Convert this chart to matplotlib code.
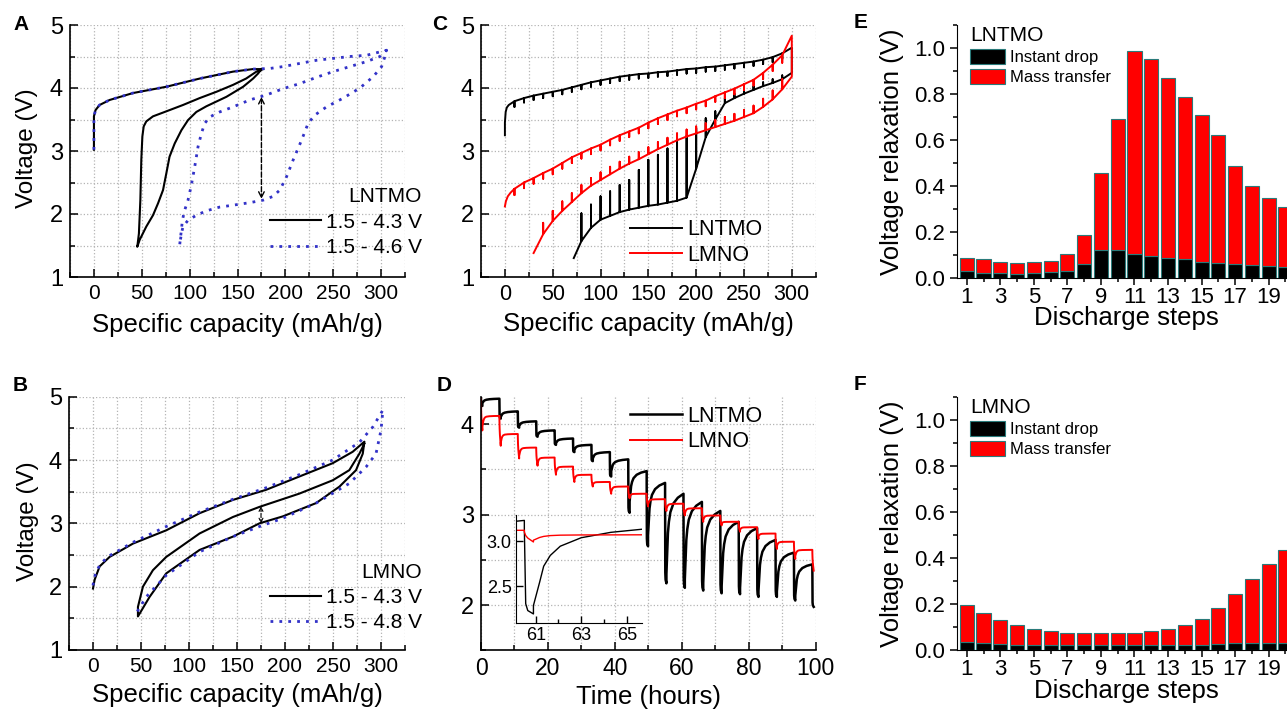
import matplotlib
matplotlib.use('Agg')
import matplotlib.pyplot as plt
from matplotlib.ticker import MultipleLocator, FixedLocator, FormatStrFormatter

plt.rcParams['font.family'] = ['Liberation Sans', 'DejaVu Sans']

W, H = 1287, 709
BLUE = '#3232c8'
EDGE = '#2a7a7a'

# ---------------- A: LNTMO galvanostatic cycles ----------------
a43_q = [0, 0, 1.7, 5.9, 16.4, 40.8, 75.7, 110.5, 145.4, 166, 177,
         169.8, 159, 145.4, 128, 110.5, 93, 75.7, 61.7, 54.7, 52, 50.6, 49.5, 48.5, 47, 45.3,
         47.8, 54.7, 61.7, 67, 72.2, 75.7, 79, 84.4, 91.4, 98.3, 107, 117.5, 138.4, 155.9, 166.3, 171.5, 175]
a43_v = [3.02, 3.55, 3.65, 3.73, 3.81, 3.92, 4.02, 4.15, 4.26, 4.30, 4.30,
         4.26, 4.15, 4.05, 3.94, 3.84, 3.73, 3.63, 3.55, 3.47, 3.39, 3.23, 2.86, 2.22, 1.69, 1.48,
         1.59, 1.80, 1.98, 2.17, 2.38, 2.65, 2.91, 3.12, 3.33, 3.49, 3.62, 3.71, 3.86, 4.02, 4.15, 4.23, 4.30]
a46_q = [0, 0, 1.7, 5.9, 16.4, 40.8, 75.7, 110.5, 145.4, 166, 183.7, 197.7, 215, 232.6, 250, 267.4, 285, 305.8,
         304, 300.6, 291.8, 277.9, 260.5, 243, 230.8, 223.8, 216.9, 208.2, 201.2, 194.2, 187.2, 176.8,
         162.8, 145.4, 131.4, 117.5, 107, 98.3, 93.1, 91.4, 89.6,
         91.4, 92.4, 94.8, 98.3, 101.8, 105.3, 108.8, 112.3, 115.8, 121, 131.4, 145.4, 162.8, 180.3,
         197.7, 215.1, 232.6, 250, 267.4, 285, 298.8, 305.8]
a46_v = [3.02, 3.55, 3.65, 3.73, 3.81, 3.92, 4.02, 4.15, 4.26, 4.30, 4.31, 4.34, 4.39, 4.44, 4.47, 4.50, 4.52, 4.60,
         4.50, 4.34, 4.18, 4.00, 3.84, 3.70, 3.57, 3.44, 3.17, 2.86, 2.59, 2.38, 2.28, 2.22,
         2.18, 2.14, 2.11, 2.05, 1.98, 1.90, 1.80, 1.69, 1.51,
         1.75, 1.90, 2.06, 2.22, 2.46, 2.75, 3.07, 3.28, 3.44, 3.54, 3.62, 3.70, 3.81, 3.89,
         3.99, 4.07, 4.17, 4.26, 4.34, 4.42, 4.50, 4.60]
a_arrow = (175, 3.86, 2.24)

# ---------------- B: LMNO galvanostatic cycles ----------------
b43_q = [0, 1.7, 6.9, 17.3, 41.6, 76.3, 111, 145.7, 180.4, 215, 249.7, 270.5, 282.7,
         281, 274, 256.7, 232.4, 197.7, 173.4, 145.7, 111, 76.3, 59, 46.8,
         46.8, 52, 62.4, 76.3, 111, 145.7, 173.4, 215, 249.7, 267, 277.5, 282.7]
b43_v = [1.97, 2.11, 2.32, 2.47, 2.68, 2.89, 3.16, 3.37, 3.53, 3.74, 3.95, 4.13, 4.29,
         4.10, 3.84, 3.58, 3.32, 3.11, 3.00, 2.79, 2.58, 2.21, 1.84, 1.53,
         1.68, 2.00, 2.26, 2.47, 2.84, 3.10, 3.26, 3.47, 3.68, 3.84, 4.10, 4.26]
b48_q = [0, 1, 3, 7, 15, 30, 41.6, 76.3, 111, 145.7, 180, 215, 249.7, 277.5, 291.4, 302,
         300, 294.8, 284.4, 267, 232.4, 197.7, 173.4, 145.7, 111, 76.3, 55.5, 45]
b48_v = [2.02, 2.12, 2.22, 2.34, 2.47, 2.60, 2.70, 2.95, 3.18, 3.38, 3.56, 3.77, 4.00, 4.28, 4.52, 4.79,
         4.47, 4.10, 3.89, 3.63, 3.32, 3.08, 2.95, 2.79, 2.55, 2.18, 1.84, 1.58]
b_arrow = (175, 3.27, 3.00)

# ---------------- C: GITT vs capacity ----------------
c_chg_q = [10, 20, 30, 40, 50, 60, 70, 80, 90, 100, 110, 120, 130, 140, 150,
           160, 170, 180, 190, 200, 210, 220, 230, 240, 250, 260, 270, 280, 290, 300]
# LNTMO charge
c_lntmo_head_q = [0, 0, 0.8, 2, 4, 7]
c_lntmo_head_v = [3.25, 3.45, 3.62, 3.69, 3.73, 3.76]
c_lntmo_chg_ccv = [3.79, 3.84, 3.88, 3.91, 3.94, 3.97, 4.01, 4.05, 4.09, 4.12, 4.15, 4.18, 4.20, 4.22, 4.23,
                   4.25, 4.26, 4.28, 4.30, 4.31, 4.33, 4.34, 4.36, 4.38, 4.40, 4.42, 4.45, 4.49, 4.55, 4.64]
c_lntmo_chg_ocv = [3.70, 3.77, 3.81, 3.84, 3.87, 3.90, 3.94, 3.98, 4.02, 4.05, 4.08, 4.11, 4.13, 4.15, 4.16,
                   4.18, 4.19, 4.21, 4.23, 4.24, 4.26, 4.27, 4.29, 4.31, 4.33, 4.35, 4.38, 4.41, 4.46, 4.48]
# LNTMO discharge
c_lntmo_dis_q = [290, 280, 270, 260, 250, 240, 230, 220, 210, 200, 190, 180, 170, 160, 150,
                 140, 130, 120, 110, 100, 90, 80]
c_lntmo_dis_ccv = [4.14, 4.08, 4.03, 3.97, 3.91, 3.84, 3.76, 3.50, 3.22, 2.72, 2.26, 2.21, 2.18, 2.15, 2.13,
                   2.10, 2.07, 2.03, 1.97, 1.91, 1.78, 1.57]
c_lntmo_dis_ocv = [4.20, 4.14, 4.09, 4.03, 3.97, 3.91, 3.84, 3.63, 3.52, 3.36, 3.24, 3.15, 3.04, 2.94, 2.86,
                   2.70, 2.54, 2.46, 2.36, 2.28, 2.15, 2.01]
c_lntmo_dis_start = (300, 4.24)
c_lntmo_dis_end = (72, 1.30)
# LMNO charge
c_lmno_head_q = [0, 1, 3, 6]
c_lmno_head_v = [2.12, 2.20, 2.28, 2.34]
c_lmno_chg_ccv = [2.40, 2.50, 2.57, 2.65, 2.72, 2.81, 2.90, 2.97, 3.04, 3.10, 3.18, 3.25, 3.31, 3.37, 3.45,
                  3.52, 3.58, 3.64, 3.69, 3.75, 3.80, 3.87, 3.93, 3.99, 4.06, 4.13, 4.24, 4.37, 4.52, 4.83]
c_lmno_chg_ocv = [2.30, 2.41, 2.48, 2.56, 2.63, 2.72, 2.81, 2.88, 2.95, 3.01, 3.09, 3.16, 3.22, 3.28, 3.36,
                  3.43, 3.49, 3.55, 3.60, 3.66, 3.71, 3.78, 3.84, 3.90, 3.97, 4.04, 4.14, 4.27, 4.40, 4.62]
# LMNO discharge
c_lmno_dis_q = [290, 280, 270, 260, 250, 240, 230, 220, 210, 200, 190, 180, 170, 160, 150,
                140, 130, 120, 110, 100, 90, 80, 70, 60, 50, 40]
c_lmno_dis_ccv = [3.98, 3.82, 3.70, 3.60, 3.54, 3.48, 3.43, 3.38, 3.33, 3.28, 3.23, 3.17, 3.10, 3.03, 2.95,
                  2.87, 2.80, 2.72, 2.63, 2.54, 2.45, 2.33, 2.19, 2.05, 1.89, 1.68]
c_lmno_dis_ocv = [4.14, 3.96, 3.83, 3.72, 3.65, 3.59, 3.54, 3.49, 3.44, 3.39, 3.34, 3.28, 3.21, 3.14, 3.06,
                  2.98, 2.91, 2.83, 2.75, 2.66, 2.57, 2.46, 2.33, 2.20, 2.05, 1.86]
c_lmno_dis_start = (300, 4.18)
c_lmno_dis_end = (30, 1.38)

# ---------------- D: GITT discharge vs time ----------------
d_pulse_t = [0, 5.5, 11, 16.5, 22, 27.5, 33, 38.5, 44, 49.5, 55, 60.5, 66, 71.5, 77, 82.5, 88, 93.5, 99]
d_lntmo_start = 4.30
d_lntmo_min = [4.20, 4.06, 3.96, 3.86, 3.77, 3.69, 3.59, 3.42, 3.02, 2.65, 2.24, 2.19, 2.16, 2.13, 2.12,
               2.09, 2.09, 2.05, 1.98]
d_lntmo_rest = [4.28, 4.14, 4.03, 3.93, 3.84, 3.77, 3.69, 3.61, 3.48, 3.35, 3.23, 3.14, 3.04, 2.92, 2.85,
                2.72, 2.58, 2.45]
d_lmno_start = 4.28
d_lmno_min = [3.93, 3.76, 3.62, 3.54, 3.44, 3.36, 3.31, 3.23, 3.18, 3.09, 3.04, 2.99, 2.92, 2.88, 2.81,
              2.73, 2.62, 2.51, 2.38]
d_lmno_rest = [4.09, 3.89, 3.74, 3.63, 3.53, 3.44, 3.36, 3.31, 3.23, 3.17, 3.12, 3.07, 2.99, 2.92, 2.86,
               2.79, 2.70, 2.61]
# pulse / rest shapes (fraction of the change)
pulse_len = 0.4
drop_dt = [0.06, 0.15, 0.4]
drop_frac_lntmo = [0.88, 0.96, 1.0]
drop_frac_lmno = [0.35, 0.6, 1.0]
rest_dt = [0.27, 0.45, 0.74, 1.18, 2.1, 3.4, 5.1]
rest_frac_lntmo = [0.30, 0.51, 0.65, 0.77, 0.88, 0.95, 1.0]
rest_frac_lmno = [0.50, 0.70, 0.85, 0.93, 0.97, 0.99, 1.0]

# ---------------- E / F: relaxation per discharge step ----------------
steps = list(range(1, 21))
e_instant = [0.030, 0.019, 0.019, 0.016, 0.019, 0.025, 0.030, 0.059, 0.122, 0.122,
             0.104, 0.094, 0.086, 0.081, 0.070, 0.065, 0.059, 0.055, 0.051, 0.045]
e_total = [0.084, 0.080, 0.068, 0.064, 0.068, 0.074, 0.103, 0.186, 0.454, 0.690,
           0.986, 0.951, 0.870, 0.788, 0.710, 0.619, 0.486, 0.397, 0.348, 0.309]
f_instant = [0.036, 0.032, 0.028, 0.023, 0.023, 0.023, 0.020, 0.020, 0.020, 0.020,
             0.020, 0.020, 0.020, 0.023, 0.023, 0.028, 0.032, 0.032, 0.032, 0.032]
f_total = [0.196, 0.162, 0.130, 0.107, 0.091, 0.081, 0.075, 0.075, 0.072, 0.072,
           0.075, 0.081, 0.090, 0.107, 0.136, 0.183, 0.245, 0.310, 0.375, 0.435]


def gitt_path(head_q, head_v, q, ccv, ocv, start=None, end=None):
    xs, ys = list(head_q), list(head_v)
    if start is not None:
        xs.append(start[0]); ys.append(start[1])
    for qi, c, o in zip(q, ccv, ocv):
        xs += [qi, qi, qi]
        ys += [c, o, c]
    if end is not None:
        xs.append(end[0]); ys.append(end[1])
    return xs, ys


def time_path(t_pulse, v0, mins, rests, inst, dfrac, rfrac):
    ts, vs = [t_pulse[0]], [v0]
    pre = v0
    for k, tk in enumerate(t_pulse):
        top = pre - inst[k]
        ts.append(tk); vs.append(top)
        for dt, f in zip(drop_dt, dfrac):
            ts.append(tk + dt); vs.append(top - f * (top - mins[k]))
        if k < len(rests):
            base = mins[k] + inst[k]
            ts.append(tk + pulse_len); vs.append(base)
            for dt, f in zip(rest_dt, rfrac):
                ts.append(tk + pulse_len + dt); vs.append(base + f * (rests[k] - base))
            pre = rests[k]
    return ts, vs


def px_axes(left, top, right, bottom):
    return fig.add_axes([left / W, 1 - bottom / H, (right - left) / W, (bottom - top) / H])


def style_curve_axes(ax, xmaj, xmin, ymaj, ymin, xfs, yfs):
    ax.spines['top'].set_visible(False)
    ax.spines['right'].set_visible(False)
    for s in ['left', 'bottom']:
        ax.spines[s].set_linewidth(1.2)
    ax.xaxis.set_major_locator(MultipleLocator(xmaj))
    ax.xaxis.set_minor_locator(MultipleLocator(xmin))
    ax.yaxis.set_major_locator(MultipleLocator(ymaj))
    ax.yaxis.set_minor_locator(MultipleLocator(ymin))
    ax.tick_params(which='both', direction='in', width=1.1)
    ax.tick_params(which='major', length=6)
    ax.tick_params(which='minor', length=3.5)
    ax.tick_params(axis='x', labelsize=xfs, pad=5)
    ax.tick_params(axis='y', labelsize=yfs, pad=5)
    ax.grid(True, which='both', linestyle=':', color='#b4b4b4', linewidth=0.9)
    ax.set_axisbelow(True)


def style_bar_axes(ax, title, inst, total):
    mass = [t - i for t, i in zip(total, inst)]
    ax.bar(steps, inst, width=0.84, color='black', edgecolor=EDGE, linewidth=0.8, label='Instant drop')
    ax.bar(steps, mass, width=0.84, bottom=inst, color='#ff0000', edgecolor=EDGE, linewidth=0.8,
           label='Mass transfer')
    ax.set_xlim(0.4, 20.6)
    ax.set_ylim(0, 1.1)
    ax.spines['top'].set_visible(False)
    ax.spines['right'].set_visible(False)
    ax.xaxis.set_major_locator(FixedLocator(list(range(1, 21, 2))))
    ax.xaxis.set_minor_locator(FixedLocator(list(range(2, 21, 2))))
    ax.yaxis.set_major_locator(MultipleLocator(0.2))
    ax.yaxis.set_minor_locator(MultipleLocator(0.1))
    ax.yaxis.set_major_formatter(FormatStrFormatter('%.1f'))
    ax.tick_params(which='both', direction='out', width=1.1, labelsize=16)
    ax.tick_params(axis='x', pad=1.5)
    ax.tick_params(which='major', length=5)
    ax.tick_params(which='minor', length=3)
    ax.set_xlabel('Discharge steps', fontsize=18.5, va='center')
    ax.xaxis.set_label_coords(0.5, -0.16)
    ax.set_ylabel('Voltage relaxation (V)', fontsize=18.5, va='center')
    ax.yaxis.set_label_coords(-0.192, 0.497)
    ax.legend(title=title, loc='upper left', bbox_to_anchor=(0.04, 0.995), frameon=False,
              fontsize=12, title_fontsize=15, alignment='left', handlelength=2.1, handleheight=1.05,
              handletextpad=0.3, labelspacing=0.22, borderpad=0, borderaxespad=0)


fig = plt.figure(figsize=(W / 100, H / 100), dpi=100)

# ---- A ----
axA = px_axes(70, 25, 405, 277)
style_curve_axes(axA, 50, 25, 1, 0.5, 15, 17)
axA.plot(a43_q, a43_v, color='black', lw=1.5, label='1.5 - 4.3 V')
axA.plot(a46_q, a46_v, color=BLUE, lw=2, linestyle=(0, (1, 2.2)), label='1.5 - 4.6 V')
axA.annotate('', xy=(a_arrow[0], a_arrow[2]), xytext=(a_arrow[0], a_arrow[1]),
             arrowprops=dict(arrowstyle='<->', linestyle='--', lw=1, color='black', shrinkA=0, shrinkB=0))
axA.set_xlim(-25, 325)
axA.set_ylim(1, 5)
axA.set_xlabel('Specific capacity (mAh/g)', fontsize=18.5, va='center')
axA.xaxis.set_label_coords(0.5, -0.19)
axA.set_ylabel('Voltage (V)', fontsize=17.5, va='center')
axA.yaxis.set_label_coords(-0.128, 0.51)
axA.legend(title='LNTMO', loc='lower right', bbox_to_anchor=(1.05, 0.08), frameon=False, fontsize=15,
           title_fontsize=15, alignment='right', handlelength=2.45, handletextpad=0.25,
           labelspacing=0.3, borderpad=0, borderaxespad=0)

# ---- B ----
axB = px_axes(69, 396.7, 405, 650)
style_curve_axes(axB, 50, 25, 1, 0.5, 15, 17)
axB.plot(b43_q, b43_v, color='black', lw=1.5, label='1.5 - 4.3 V')
axB.plot(b48_q, b48_v, color=BLUE, lw=2, linestyle=(0, (1, 2.2)), label='1.5 - 4.8 V')
axB.annotate('', xy=(b_arrow[0], b_arrow[2]), xytext=(b_arrow[0], b_arrow[1]),
             arrowprops=dict(arrowstyle='<->', linestyle='--', lw=0.8, color='black', shrinkA=0, shrinkB=0,
                             mutation_scale=7))
axB.set_xlim(-25, 325)
axB.set_ylim(1, 5)
axB.set_xlabel('Specific capacity (mAh/g)', fontsize=18.5, va='center')
axB.xaxis.set_label_coords(0.5, -0.178)
axB.set_ylabel('Voltage (V)', fontsize=17.5, va='center')
axB.yaxis.set_label_coords(-0.122, 0.51)
axB.legend(title='LMNO', loc='lower right', bbox_to_anchor=(1.05, 0.07), frameon=False, fontsize=15,
           title_fontsize=15, alignment='right', handlelength=2.45, handletextpad=0.25,
           labelspacing=0.3, borderpad=0, borderaxespad=0)

# ---- C ----
axC = px_axes(481, 25, 815.7, 277)
style_curve_axes(axC, 50, 25, 1, 0.5, 15.5, 17)
xs, ys = gitt_path(c_lntmo_head_q, c_lntmo_head_v, c_chg_q, c_lntmo_chg_ccv, c_lntmo_chg_ocv)
x2, y2 = gitt_path([], [], c_lntmo_dis_q, c_lntmo_dis_ccv, c_lntmo_dis_ocv,
                   start=c_lntmo_dis_start, end=c_lntmo_dis_end)
axC.plot(xs + x2, ys + y2, color='black', lw=1.4, label='LNTMO')
xs, ys = gitt_path(c_lmno_head_q, c_lmno_head_v, c_chg_q, c_lmno_chg_ccv, c_lmno_chg_ocv)
x2, y2 = gitt_path([], [], c_lmno_dis_q, c_lmno_dis_ccv, c_lmno_dis_ocv,
                   start=c_lmno_dis_start, end=c_lmno_dis_end)
axC.plot(xs + x2, ys + y2, color='#ff0000', lw=1.4, label='LMNO')
axC.set_xlim(-25, 325)
axC.set_ylim(1, 5)
axC.set_xlabel('Specific capacity (mAh/g)', fontsize=18.5, va='center')
axC.xaxis.set_label_coords(0.5, -0.187)
axC.legend(loc='lower left', bbox_to_anchor=(0.445, 0.045), frameon=False, fontsize=15.5,
           handlelength=2.4, handletextpad=0.25, labelspacing=0.2, borderpad=0, borderaxespad=0)

# ---- D ----
axD = px_axes(481, 396.9, 815.7, 650.3)
style_curve_axes(axD, 20, 10, 1, 0.5, 16.5, 17)
tb, vb = time_path(d_pulse_t, d_lntmo_start, d_lntmo_min, d_lntmo_rest, e_instant, drop_frac_lntmo,
                   rest_frac_lntmo)
tr, vr = time_path(d_pulse_t, d_lmno_start, d_lmno_min, d_lmno_rest, f_instant, drop_frac_lmno,
                   rest_frac_lmno)
axD.plot(tb, vb, color='black', lw=1.8, label='LNTMO')
axD.plot(tr, vr, color='#ff0000', lw=1.4, label='LMNO')
axD.set_xlim(0, 100)
axD.set_ylim(1.5, 4.3)
axD.set_xlabel('Time (hours)', fontsize=18.5, va='center')
axD.xaxis.set_label_coords(0.5, -0.184)
axD.legend(loc='upper left', bbox_to_anchor=(0.445, 0.965), frameon=False, fontsize=15.5,
           handlelength=2.4, handletextpad=0.25, labelspacing=0.2, borderpad=0, borderaxespad=0)

# inset of D
axI = px_axes(515.7, 515, 641.7, 623.3)
axI.patch.set_alpha(0)
axI.plot(tb, vb, color='black', lw=1.0)
axI.plot(tr, vr, color='#ff0000', lw=1.0)
axI.set_xlim(60.12, 65.66)
axI.set_ylim(2.086, 3.29)
axI.spines['top'].set_visible(False)
axI.spines['right'].set_visible(False)
axI.xaxis.set_major_locator(FixedLocator([61, 63, 65]))
axI.xaxis.set_minor_locator(FixedLocator([62, 64]))
axI.yaxis.set_major_locator(FixedLocator([2.5, 3.0]))
axI.yaxis.set_major_formatter(FormatStrFormatter('%.1f'))
axI.tick_params(which='both', direction='in', width=1, labelsize=13, pad=3)
axI.tick_params(which='major', length=5)
axI.tick_params(which='minor', length=3)

# ---- E / F ----
axE = px_axes(956.7, 25, 1295.5, 277.7)
style_bar_axes(axE, 'LNTMO', e_instant, e_total)
axF = px_axes(956.7, 396.7, 1295.5, 650)
style_bar_axes(axF, 'LMNO', f_instant, f_total)

# panel letters
for letter, x, y in [('A', 13, 25), ('B', 13, 385), ('C', 432, 24), ('D', 437, 385),
                     ('E', 854, 22), ('F', 854, 384)]:
    fig.text(x / W, 1 - y / H, letter, fontsize=15, fontweight='bold', ha='left', va='center')

fig.savefig('out.png', dpi=100)
